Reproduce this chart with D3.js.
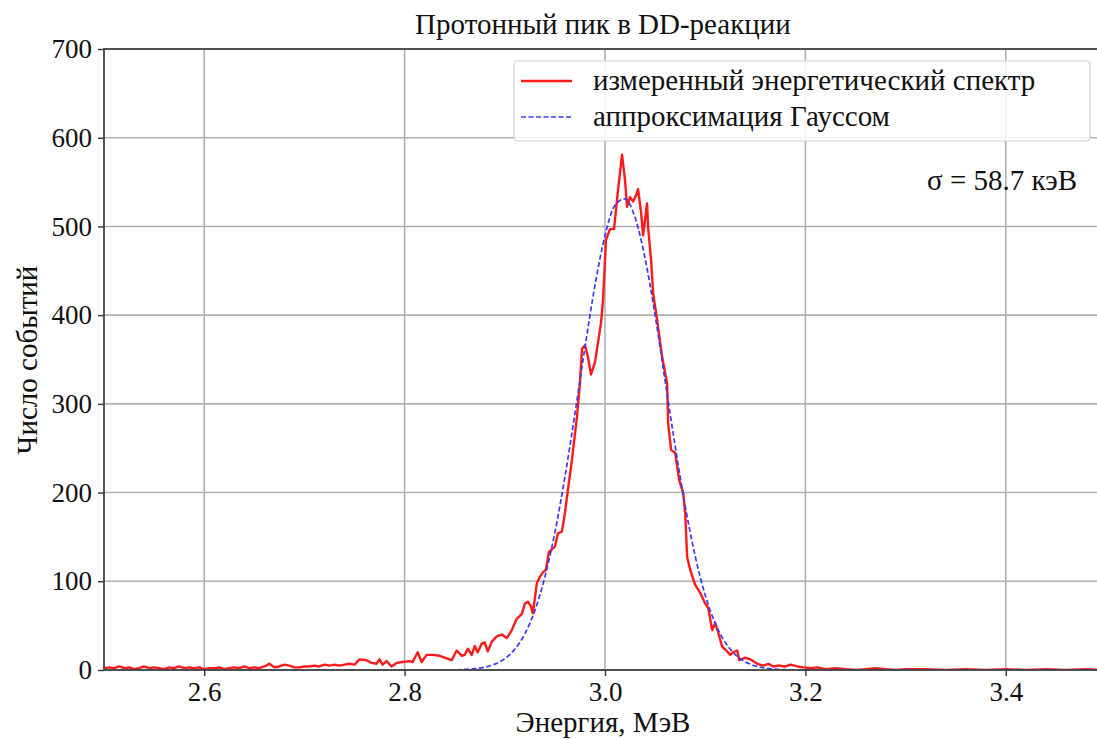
<!DOCTYPE html>
<html><head><meta charset="utf-8">
<script src="https://cdn.jsdelivr.net/npm/d3@7"></script>
<style>body{margin:0;background:#fff}svg{display:block}</style>
</head><body>
<script>
const title = "Протонный пик в DD-реакции";
const xLabel = "Энергия, МэВ";
const yLabel = "Число событий";
const seriesNames = ["измеренный энергетический спектр", "аппроксимация Гауссом"];
const sigmaLabel = "σ = 58.7 кэВ";
const xTicks = [2.6, 2.8, 3.0, 3.2, 3.4];
const yTicks = [0, 100, 200, 300, 400, 500, 600, 700];

const measE = [2.500,2.505,2.510,2.515,2.520,2.525,2.530,2.535,2.540,2.545,2.550,2.555,2.560,2.565,2.570,2.575,2.580,2.585,2.590,2.595,2.600,2.605,2.610,2.615,2.620,2.625,2.630,2.635,2.640,2.645,2.650,2.655,2.660,2.665,2.670,2.675,2.680,2.685,2.690,2.695,2.700,2.705,2.710,2.715,2.720,2.725,2.730,2.735,2.740,2.745,2.750,2.755,2.762,2.767,2.772,2.775,2.778,2.782,2.787,2.792,2.798,2.805,2.808,2.813,2.817,2.822,2.828,2.835,2.842,2.847,2.852,2.857,2.860,2.863,2.867,2.870,2.873,2.877,2.880,2.883,2.887,2.892,2.897,2.902,2.907,2.912,2.917,2.920,2.923,2.926,2.928,2.932,2.935,2.938,2.941,2.944,2.948,2.950,2.953,2.957,2.960,2.963,2.967,2.972,2.975,2.977,2.980,2.983,2.986,2.990,2.993,2.996,2.998,3.001,3.005,3.009,3.013,3.017,3.020,3.022,3.025,3.028,3.031,3.033,3.036,3.038,3.042,3.043,3.046,3.048,3.052,3.057,3.062,3.063,3.066,3.070,3.074,3.078,3.080,3.082,3.085,3.090,3.095,3.100,3.103,3.107,3.110,3.113,3.117,3.121,3.125,3.128,3.132,3.134,3.140,3.145,3.152,3.158,3.163,3.168,3.173,3.180,3.185,3.192,3.198,3.205,3.212,3.220,3.230,3.240,3.250,3.260,3.270,3.280,3.290,3.300,3.320,3.340,3.360,3.380,3.400,3.420,3.440,3.460,3.480,3.500];
const measN = [2,3,2,4,2,3,1,2,4,2,3,2,1,3,2,4,2,3,2,3,1,2,2,3,1,2,3,2,4,2,3,2,4,7,3,4,6,5,3,3,4,4,5,4,6,5,6,5,6,7,6,12,11,8,7,12,6,10,4,8,9,10,9,20,9,17,17,16,13,11,22,16,17,24,17,27,20,30,31,21,32,38,40,36,45,58,63,75,77,72,64,98,105,110,113,133,137,139,154,156,177,203,237,285,323,362,366,353,333,347,369,391,417,485,497,497,541,581,552,522,533,528,535,542,516,490,526,499,462,425,395,353,323,278,248,245,214,200,177,127,113,96,87,75,70,45,53,42,26,22,17,20,22,11,14,12,7,5,7,4,5,4,6,4,3,2,3,1,2,1,0,1,2,1,0,1,1,0,1,0,1,0,1,0,1,0];

const fitE = [2.50,2.80,2.84,2.86,2.87,2.88,2.89,2.90,2.91,2.92,2.93,2.94,2.95,2.96,2.97,2.98,2.99,3.00,3.01,3.02,3.03,3.04,3.05,3.06,3.07,3.08,3.09,3.10,3.11,3.12,3.13,3.14,3.15,3.16,3.17,3.18,3.20,3.50];
const fitN = [0,0,0.1,0.6,1.5,3.2,6.6,12.7,23.4,40.7,67.1,104.9,155.2,217.6,289,363.7,433.6,489.7,524,531,510,464,400,326,252.5,185,128.4,84.5,52.6,31.1,17.4,9.2,4.6,2.2,1.0,0.4,0.1,0];

const W = 1097, H = 740;
const svg = d3.select("body").append("svg").attr("width", W).attr("height", H)
  .style("font-family", "'Liberation Serif','Times New Roman',serif");

const x = d3.scaleLinear().domain([2.5, 3.5]).range([104, 1106]);
const y = d3.scaleLinear().domain([0, 700]).range([670, 49]);

// grid
svg.append("g").selectAll("line").data(xTicks).join("line")
  .attr("x1", d => x(d)).attr("x2", d => x(d)).attr("y1", y(0)).attr("y2", y(700))
  .attr("stroke", "#b0b0b0").attr("stroke-width", 1.6);
svg.append("g").selectAll("line").data(yTicks).join("line")
  .attr("y1", d => y(d)).attr("y2", d => y(d)).attr("x1", x(2.5)).attr("x2", x(3.5))
  .attr("stroke", "#b0b0b0").attr("stroke-width", 1.6);

svg.append("defs").append("clipPath").attr("id", "clip").append("rect")
  .attr("x", x(2.5)).attr("y", y(700)).attr("width", x(3.5) - x(2.5)).attr("height", y(0) - y(700));

const meas = measE.map((e, i) => [e, measN[i]]);
const fit = fitE.map((e, i) => [e, fitN[i]]);

svg.append("path").datum(meas).attr("clip-path", "url(#clip)")
  .attr("d", d3.line().x(d => x(d[0])).y(d => y(d[1])))
  .attr("fill", "none").attr("stroke", "#ff1a1a").attr("stroke-width", 2.4).attr("stroke-linejoin", "round");
svg.append("path").datum(fit).attr("clip-path", "url(#clip)")
  .attr("d", d3.line().curve(d3.curveMonotoneX).x(d => x(d[0])).y(d => y(d[1])))
  .attr("fill", "none").attr("stroke", "#3a3aff").attr("stroke-width", 1.7).attr("stroke-dasharray", "5,2.5");

// axes
const xAxis = svg.append("g").attr("transform", `translate(0,${y(0)})`)
  .call(d3.axisBottom(x).tickValues(xTicks).tickFormat(d3.format(".1f")).tickSize(6).tickPadding(6));
const yAxis = svg.append("g").attr("transform", `translate(${x(2.5)},0)`)
  .call(d3.axisLeft(y).tickValues(yTicks).tickSize(6).tickPadding(6));
[xAxis, yAxis].forEach(g => {
  g.select(".domain").remove();
  g.selectAll("line").attr("stroke", "#333").attr("stroke-width", 1.4);
  g.selectAll("text").attr("font-size", 27).attr("fill", "#111").attr("font-family", "'Liberation Serif',serif");
});
// frame
svg.append("rect").attr("x", x(2.5)).attr("y", y(700)).attr("width", x(3.5) - x(2.5)).attr("height", y(0) - y(700))
  .attr("fill", "none").attr("stroke", "#444").attr("stroke-width", 1.8);

svg.append("text").attr("x", 603).attr("y", 34).attr("text-anchor", "middle").attr("font-size", 29).attr("fill", "#111").text(title);
svg.append("text").attr("x", 603).attr("y", 732).attr("text-anchor", "middle").attr("font-size", 29).attr("fill", "#111").text(xLabel);
svg.append("text").attr("transform", "translate(37,360) rotate(-90)").attr("text-anchor", "middle").attr("font-size", 29).attr("fill", "#111").text(yLabel);

// legend
const lg = svg.append("g");
lg.append("rect").attr("x", 514).attr("y", 61).attr("width", 576).attr("height", 80).attr("rx", 4)
  .attr("fill", "#fff").attr("fill-opacity", 0.85).attr("stroke", "#d0d0d0").attr("stroke-width", 1.2);
const colors = ["#ff1a1a", "#3a3aff"];
seriesNames.forEach((s, i) => {
  const yy = 81 + i * 36;
  lg.append("line").attr("x1", 521).attr("x2", 572).attr("y1", yy).attr("y2", yy)
    .attr("stroke", colors[i]).attr("stroke-width", i ? 1.7 : 2.4).attr("stroke-dasharray", i ? "5,2.5" : null);
  lg.append("text").attr("x", 593).attr("y", yy + 9).attr("font-size", 29).attr("fill", "#111").text(s);
});
svg.append("text").attr("x", 1077).attr("y", 190).attr("text-anchor", "end").attr("font-size", 29).attr("fill", "#111").text(sigmaLabel);
</script>
</body></html>
